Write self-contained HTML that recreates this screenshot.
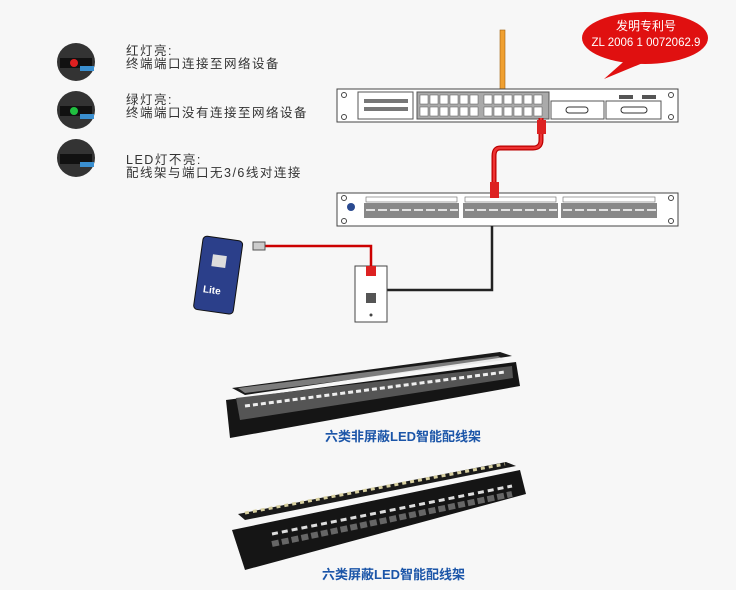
<!DOCTYPE html>
<html><head><meta charset="utf-8"><style>
body{margin:0;background:#f7f7f7;width:736px;height:590px;overflow:hidden;font-family:"Liberation Sans","Noto Sans CJK SC",sans-serif}
</style></head><body>
<svg width="736" height="590" viewBox="0 0 736 590" xmlns="http://www.w3.org/2000/svg" style="position:absolute;left:0;top:0">
<rect width="736" height="590" fill="#f7f7f7"/>
<g>
 <circle cx="76" cy="62" r="19" fill="#333"/><rect x="60" y="58" width="32" height="10" fill="#111"/><circle cx="74" cy="63" r="4" fill="#e02020"/><rect x="80" y="66" width="14" height="5" fill="#3a8fd0"/>
 <circle cx="76" cy="110" r="19" fill="#333"/><rect x="60" y="106" width="32" height="10" fill="#111"/><circle cx="74" cy="111" r="4" fill="#20c040"/><rect x="80" y="114" width="14" height="5" fill="#3a8fd0"/>
 <circle cx="76" cy="158" r="19" fill="#333"/><rect x="60" y="154" width="32" height="10" fill="#111"/><rect x="80" y="162" width="14" height="5" fill="#3a8fd0"/>
</g>
<g font-size="12.5" fill="#333" letter-spacing="1.5">
 <text x="126" y="55">红灯亮:</text><text x="126" y="68">终端端口连接至网络设备</text>
 <text x="126" y="104">绿灯亮:</text><text x="126" y="117">终端端口没有连接至网络设备</text>
 <text x="126" y="164">LED灯不亮:</text><text x="126" y="177">配线架与端口无3/6线对连接</text>
</g>
<rect x="500" y="30" width="5" height="60" fill="#f0a030" stroke="#a06010" stroke-width="0.6"/>
<!-- bubble -->
<ellipse cx="645" cy="38" rx="63" ry="26" fill="#e01010"/>
<path d="M604 79 L630 56 L650 60 Z" fill="#e01010"/>
<text x="646" y="30" font-size="12" fill="#fff" text-anchor="middle">发明专利号</text>
<text x="646" y="46" font-size="11.5" fill="#fff" text-anchor="middle">ZL 2006 1 0072062.9</text>
<!-- switch -->
<rect x="337" y="89" width="341" height="33" fill="#fff" stroke="#444"/>
<rect x="358" y="92" width="55" height="27" fill="#fff" stroke="#555"/>
<g fill="#777"><rect x="364" y="99" width="44" height="4"/><rect x="364" y="107" width="44" height="4"/></g>
<rect x="417" y="92" width="132" height="27" fill="#aaa" stroke="#555"/>
<g fill="#fff" stroke="#555" stroke-width="0.5">
 <rect x="420" y="95" width="8" height="9"/><rect x="430" y="95" width="8" height="9"/><rect x="440" y="95" width="8" height="9"/><rect x="450" y="95" width="8" height="9"/><rect x="460" y="95" width="8" height="9"/><rect x="470" y="95" width="8" height="9"/>
 <rect x="484" y="95" width="8" height="9"/><rect x="494" y="95" width="8" height="9"/><rect x="504" y="95" width="8" height="9"/><rect x="514" y="95" width="8" height="9"/><rect x="524" y="95" width="8" height="9"/><rect x="534" y="95" width="8" height="9"/>
 <rect x="420" y="107" width="8" height="9"/><rect x="430" y="107" width="8" height="9"/><rect x="440" y="107" width="8" height="9"/><rect x="450" y="107" width="8" height="9"/><rect x="460" y="107" width="8" height="9"/><rect x="470" y="107" width="8" height="9"/>
 <rect x="484" y="107" width="8" height="9"/><rect x="494" y="107" width="8" height="9"/><rect x="504" y="107" width="8" height="9"/><rect x="514" y="107" width="8" height="9"/><rect x="524" y="107" width="8" height="9"/><rect x="534" y="107" width="8" height="9"/>
</g>
<rect x="551" y="101" width="53" height="18" fill="#fff" stroke="#555"/><rect x="566" y="107" width="22" height="6" rx="3" fill="#fff" stroke="#333"/>
<rect x="606" y="101" width="55" height="18" fill="#fff" stroke="#555"/><rect x="621" y="107" width="26" height="6" rx="3" fill="#fff" stroke="#333"/>
<rect x="619" y="95" width="14" height="4" fill="#555"/><rect x="642" y="95" width="14" height="4" fill="#555"/>
<circle cx="344" cy="95" r="2.5" fill="none" stroke="#444"/><circle cx="344" cy="117" r="2.5" fill="none" stroke="#444"/>
<circle cx="671" cy="95" r="2.5" fill="none" stroke="#444"/><circle cx="671" cy="117" r="2.5" fill="none" stroke="#444"/>
<!-- patch panel -->
<rect x="337" y="193" width="341" height="33" fill="#fff" stroke="#444"/>
<g fill="#888">
 <rect x="364" y="203" width="95" height="15"/><rect x="463" y="203" width="95" height="15"/><rect x="561" y="203" width="96" height="15"/>
</g>
<g fill="#fff" stroke="#666" stroke-width="0.6">
 <rect x="366" y="197" width="91" height="5"/><rect x="465" y="197" width="91" height="5"/><rect x="563" y="197" width="92" height="5"/>
</g>
<g stroke="#fff" stroke-width="1.5" stroke-dasharray="9 3"><line x1="366" y1="210" x2="458" y2="210"/><line x1="465" y1="210" x2="557" y2="210"/><line x1="563" y1="210" x2="656" y2="210"/></g>
<circle cx="351" cy="207" r="4" fill="#2a4a90"/>
<circle cx="344" cy="198" r="2.5" fill="none" stroke="#444"/><circle cx="344" cy="221" r="2.5" fill="none" stroke="#444"/>
<circle cx="671" cy="198" r="2.5" fill="none" stroke="#444"/><circle cx="671" cy="221" r="2.5" fill="none" stroke="#444"/>
<path d="M541 118 L541 140 Q541 148 533 148 L500 148 Q494 148 494 156 L494 198" fill="none" stroke="#b00" stroke-width="5"/>
<path d="M541 118 L541 140 Q541 148 533 148 L500 148 Q494 148 494 156 L494 198" fill="none" stroke="#e33" stroke-width="2.5"/>
<rect x="537" y="120" width="9" height="14" fill="#d22"/><rect x="490" y="182" width="9" height="16" fill="#d22"/>
<path d="M492 226 L492 290 L387 290" fill="none" stroke="#222" stroke-width="2.5"/>
<rect x="355" y="266" width="32" height="56" fill="#fff" stroke="#444"/>
<rect x="366" y="293" width="10" height="10" fill="#555"/><circle cx="371" cy="315" r="1.5" fill="#444"/>
<path d="M371 270 L371 246 L262 246" fill="none" stroke="#c00" stroke-width="2.5"/>
<rect x="366" y="266" width="10" height="10" fill="#d22"/><rect x="253" y="242" width="12" height="8" fill="#ccc" stroke="#555"/>
<g transform="rotate(8 217 276)">
 <rect x="198" y="238" width="40" height="74" rx="4" fill="#2b3f8a" stroke="#111"/>
 <rect x="210" y="255" width="14" height="12" fill="#ddd"/>
 <text x="205" y="294" font-size="10" font-weight="bold" fill="#fff">Lite</text>
</g>
<!-- bottom panel 1 -->
<polygon points="232,388 500,352 512,356 245,395" fill="#1a1a1a"/>
<polygon points="238,388 498,356 505,360 245,393" fill="#ddd" opacity="0.5"/>
<polygon points="226,400 516,362 520,386 230,438" fill="#151515"/>
<polygon points="236,398 512,366 513,378 240,420" fill="#555"/>
<g stroke="#eee" stroke-width="3" stroke-dasharray="5 3"><line x1="245" y1="406" x2="505" y2="372"/></g>
<text x="325" y="441" font-size="13" font-weight="bold" fill="#1b55a8">六类非屏蔽LED智能配线架</text>
<!-- bottom panel 2 -->
<polygon points="238,514 506,462 516,466 245,520" fill="#1a1a1a"/>
<g stroke="#d8d0a0" stroke-width="3" stroke-dasharray="4 4"><line x1="245" y1="513" x2="505" y2="464"/></g>
<polygon points="232,530 520,470 526,494 245,570" fill="#151515"/>
<g stroke="#ddd" stroke-width="3" stroke-dasharray="6 4"><line x1="272" y1="534" x2="512" y2="486"/></g>
<g stroke="#666" stroke-width="6" stroke-dasharray="7 3"><line x1="272" y1="544" x2="512" y2="494"/></g>
<text x="322" y="579" font-size="13" font-weight="bold" fill="#1b55a8">六类屏蔽LED智能配线架</text>
</svg>
</body></html>
